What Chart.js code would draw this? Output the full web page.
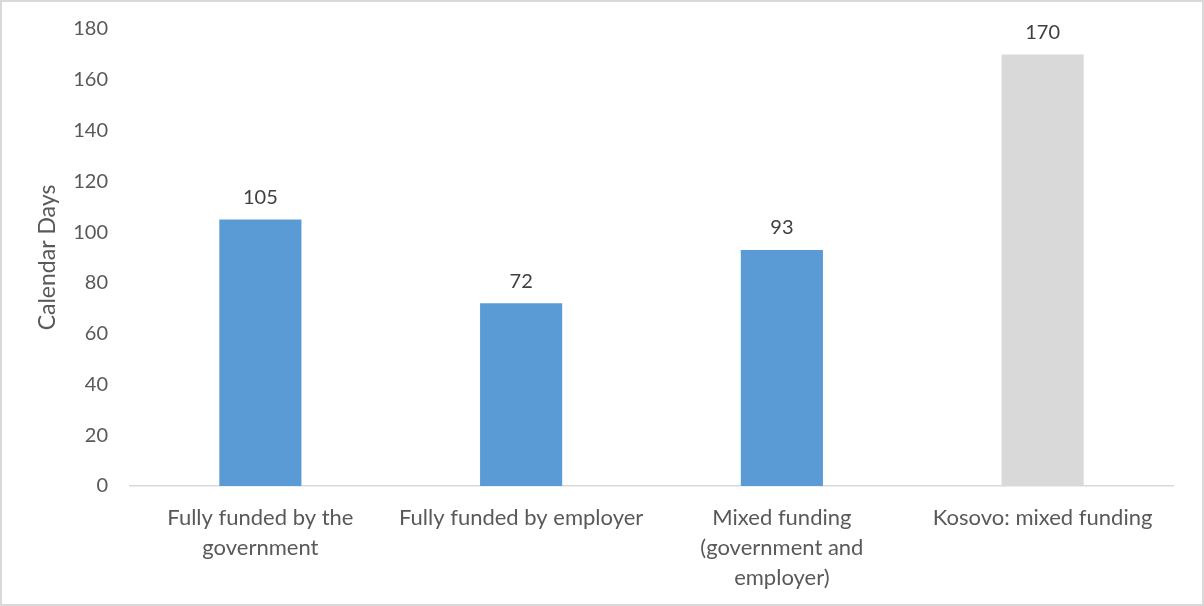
<!DOCTYPE html>
<html>
<head>
<meta charset="utf-8">
<script src="https://cdn.jsdelivr.net/npm/chart.js@4/dist/chart.umd.min.js"></script>
<style>
  html, body { margin: 0; padding: 0; background: #fff; }
  #wrap { position: relative; width: 1204px; height: 606px; }
  #frame { position: absolute; inset: 0; border: 2px solid #d9d9d9; pointer-events: none; box-sizing: border-box; }
</style>
</head>
<body>
<div id="wrap">
  <canvas id="chart" width="1204" height="606"></canvas>
  <div id="frame"></div>
</div>
<script>
// Average leave length by funding model
const categories = [
  ['Fully funded by the', 'government'],
  'Fully funded by employer',
  ['Mixed funding', '(government and', 'employer)'],
  'Kosovo: mixed funding'
];
const days = [105, 72, 93, 170];
const barColors = ['#5b9bd5', '#5b9bd5', '#5b9bd5', '#d9d9d9'];
const yTicks = { min: 0, max: 180, step: 20 };

const FONT = 'Lato, "Open Sans", sans-serif';

// value labels drawn above each bar
const barValues = {
  id: 'barValues',
  afterDatasetsDraw(chart) {
    const ctx = chart.ctx;
    const meta = chart.getDatasetMeta(0);
    ctx.save();
    ctx.font = '20px ' + FONT;
    ctx.fillStyle = '#404040';
    ctx.textAlign = 'center';
    ctx.textBaseline = 'middle';
    meta.data.forEach((bar, i) => {
      ctx.fillText(String(days[i]), bar.x, bar.y - 22);
    });
    ctx.restore();
  }
};

new Chart(document.getElementById('chart').getContext('2d'), {
  type: 'bar',
  data: {
    labels: categories,
    datasets: [{
      data: days,
      backgroundColor: barColors,
      barPercentage: 0.315,
      categoryPercentage: 1.0,
    }]
  },
  options: {
    responsive: false,
    animation: false,
    layout: { padding: { left: 30, right: 31, top: 29, bottom: 0 } },
    plugins: { legend: { display: false }, tooltip: { enabled: false } },
    scales: {
      x: {
        grid: { display: false, drawTicks: false },
        border: { display: true, color: '#d9d9d9', width: 1.5 },
        ticks: {
          color: '#595959',
          padding: 17,
          maxRotation: 0,
          autoSkip: false,
          font: { family: FONT, size: 22, lineHeight: 1.36 },
        },
        afterFit: (scale) => { scale.height = 120; },
      },
      y: {
        min: yTicks.min,
        max: yTicks.max,
        grid: { display: false, drawTicks: false },
        border: { display: false },
        ticks: {
          stepSize: yTicks.step,
          color: '#595959',
          padding: 22,
          font: { family: FONT, size: 20 },
        },
        title: {
          display: true,
          text: 'Calendar Days',
          color: '#595959',
          font: { family: FONT, size: 23 },
        },
        afterFit: (scale) => {
          scale.width = 100;
          // plot top comes from layout padding only
          scale.paddingTop = 0;
          scale.paddingBottom = 0;
        },
      }
    }
  },
  plugins: [barValues]
});
</script>
</body>
</html>
